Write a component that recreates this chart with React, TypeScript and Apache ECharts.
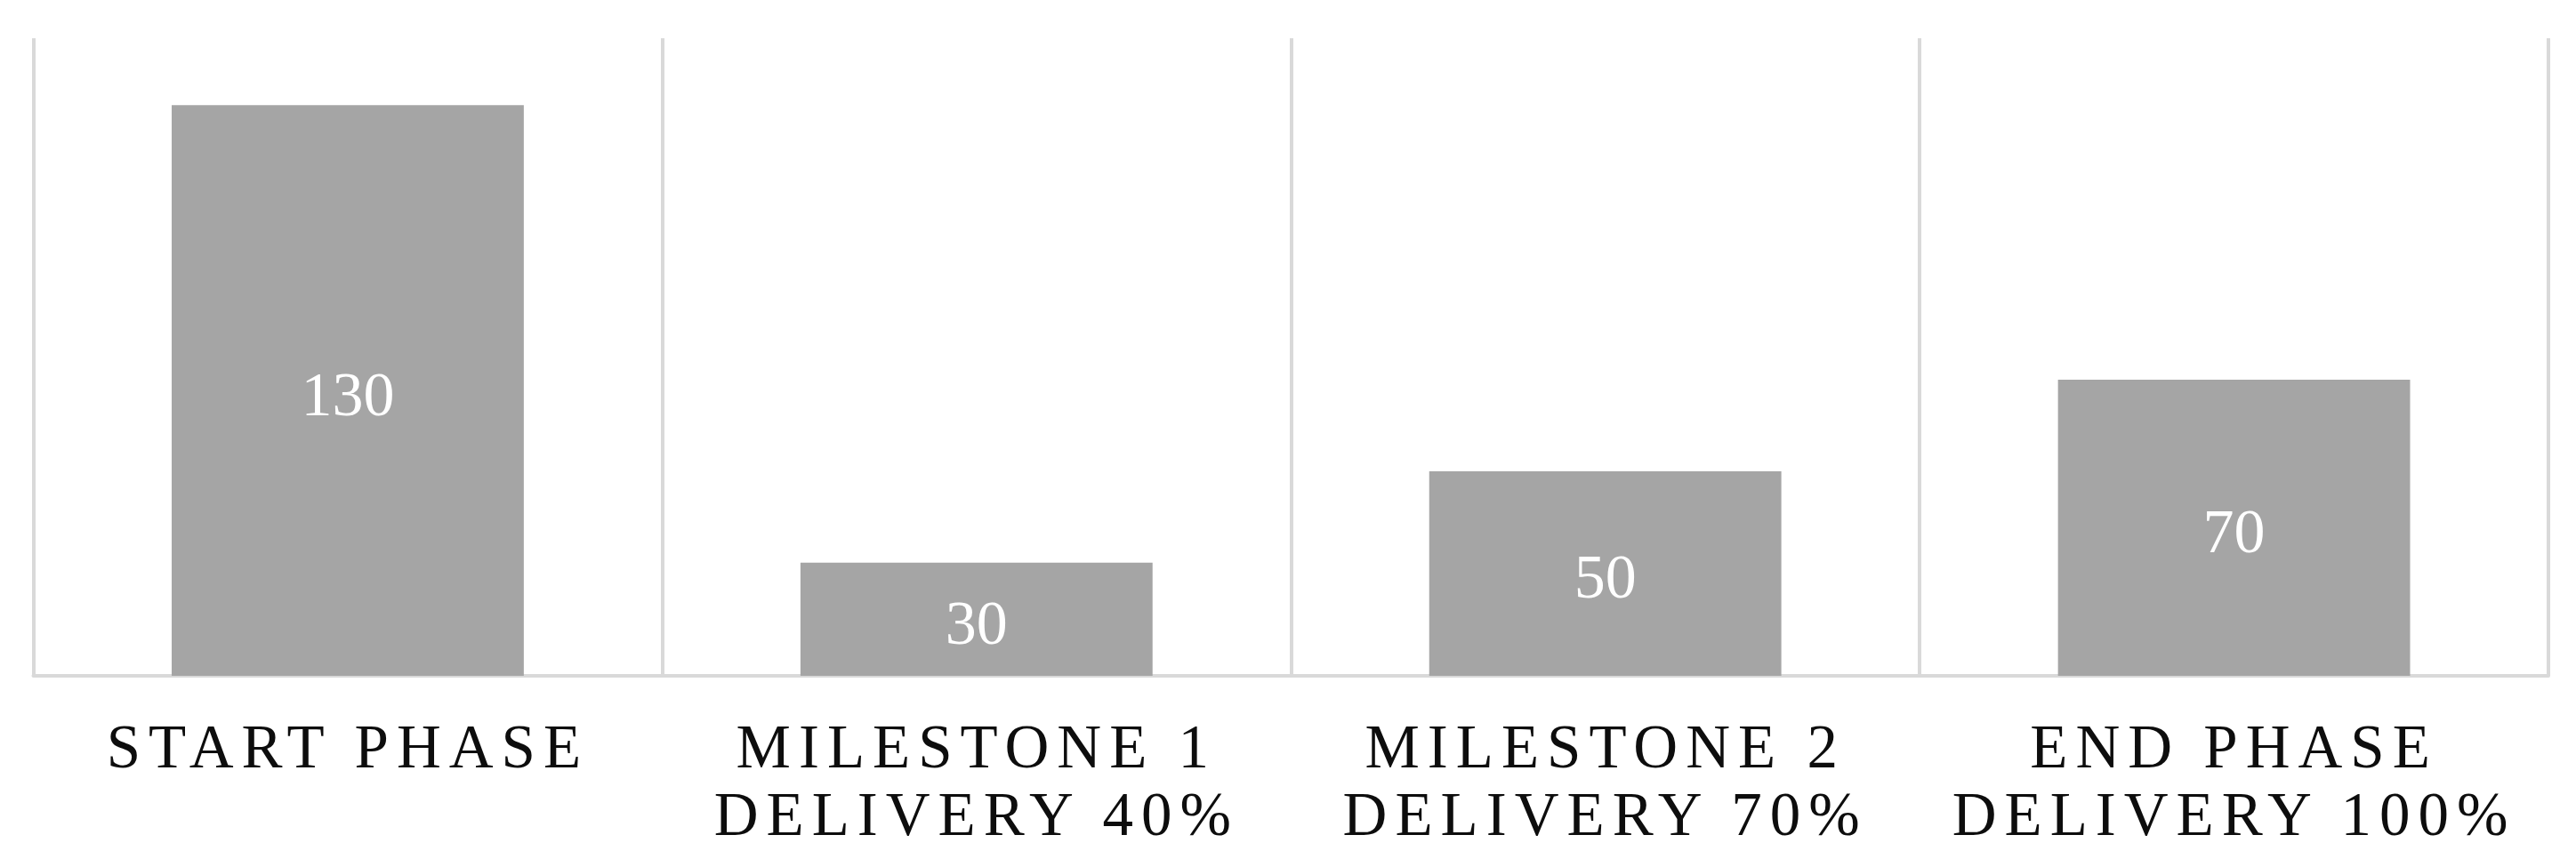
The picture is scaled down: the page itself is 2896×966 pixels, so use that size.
import React, { useEffect, useRef } from "react";
import * as echarts from "echarts";

const categories = [
  "START PHASE",
  "MILESTONE 1\nDELIVERY 40%",
  "MILESTONE 2\nDELIVERY 70%",
  "END PHASE\nDELIVERY 100%",
];
const values = [130, 30, 50, 70];
const valueAxisMin = 5.3;
const valueAxisMax = 144.6;

const SERIF = "'Liberation Serif', 'Times New Roman', serif";

export default function App() {
  const ref = useRef<HTMLDivElement>(null);

  useEffect(() => {
    if (!ref.current) return;
    const chart = echarts.init(ref.current, null, { renderer: "svg" });
    chart.setOption({
      animation: false,
      backgroundColor: "#ffffff",
      grid: { left: 29.5, right: 23, top: 35, bottom: 198, containLabel: false },
      xAxis: {
        type: "category",
        data: categories,
        boundaryGap: true,
        axisLine: { show: true, lineStyle: { color: "#d9d9d9", width: 4 } },
        axisTick: { show: false },
        splitLine: { show: true, lineStyle: { color: "#d9d9d9", width: 4 } },
        axisLabel: {
          interval: 0,
          margin: 42,
          color: "#0d0d0d",
          fontFamily: SERIF,
          fontSize: 69,
          lineHeight: 76,
          align: "center",
        },
      },
      yAxis: {
        type: "value",
        show: false,
        min: valueAxisMin,
        max: valueAxisMax,
        splitLine: { show: false },
      },
      series: [
        {
          type: "bar",
          data: values,
          barWidth: "56%",
          itemStyle: { color: "#a5a5a5" },
          label: {
            show: true,
            position: "inside",
            offset: [0, 4],
            color: "#ffffff",
            fontFamily: SERIF,
            fontSize: 70,
          },
        },
      ],
    });
    return () => chart.dispose();
  }, []);

  return (
    <div>
      <style>{`#chart text[fill="#0d0d0d"]{letter-spacing:9px}`}</style>
      <div id="chart" ref={ref} style={{ width: 2880, height: 950 }} />
    </div>
  );
}
